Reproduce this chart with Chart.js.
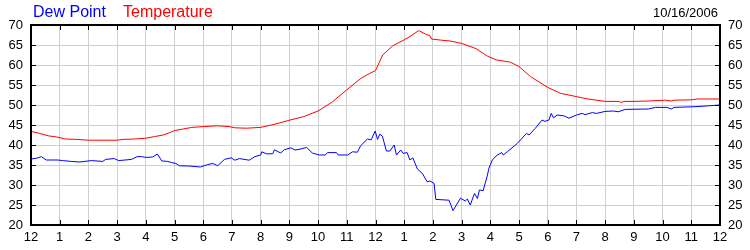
<!DOCTYPE html>
<html>
<head>
<meta charset="utf-8">
<script src="https://cdn.jsdelivr.net/npm/chart.js@4/dist/chart.umd.min.js"></script>
<style>
  body { margin: 0; background: #fff; }
  canvas { display: block; }
</style>
</head>
<body>
<canvas id="weather" width="750" height="250"></canvas>
<script>
const hourLabels = ['12','1','2','3','4','5','6','7','8','9','10','11','12','1','2','3','4','5','6','7','8','9','10','11','12'];
const yTicks = [20, 70, 5]; // min, max, step
const seriesNames = ['Dew Point', 'Temperature'];
const dateLabel = '10/16/2006';

const tempHours = [0,0.3,0.6,0.9,1.2,1.6,2,2.5,3,3.2,3.6,4,4.3,4.6,4.8,5,5.3,5.6,6,6.5,6.9,7.1,7.5,8,
  8.5,9,9.5,10,10.5,11,11.5,11.8,12,12.25,12.6,13,13.2,13.5,13.75,13.9,13.95,14.3,14.6,15,15.5,15.9,
  16.2,16.7,17,17.4,18,18.45,19,19.4,20,20.5,20.55,20.65,21,21.5,22.1,22.3,22.4,23,23.2,24];
const tempValues = [43.4,42.9,42.3,42.0,41.5,41.4,41.2,41.2,41.2,41.4,41.5,41.7,42.1,42.5,43.0,43.6,44.0,44.4,44.6,44.8,44.6,44.3,44.2,44.4,
  45.2,46.2,47.1,48.5,50.8,53.8,56.7,57.9,58.6,62.5,64.8,66.3,67.1,68.6,67.7,67.3,66.5,66.2,66.0,65.4,64.1,62.2,
  61.3,60.7,59.6,57.1,54.4,52.9,52.1,51.5,50.9,50.9,50.6,50.9,50.9,51.0,51.2,51.0,51.2,51.3,51.5,51.5];

const dewHours = [0,0.2,0.36,0.53,0.94,1.1,1.4,1.7,2.1,2.5,2.6,2.9,3.05,3.5,3.7,3.85,4,4.24,4.4,4.56,4.76,4.9,5.04,5.17,5.5,5.9,
  6.16,6.33,6.5,6.74,6.97,7.1,7.26,7.6,7.8,8,8.04,8.2,8.42,8.48,8.7,8.82,9.05,9.2,9.4,9.6,9.8,10.04,10.25,10.33,10.64,10.7,
  11.03,11.2,11.37,11.48,11.72,11.85,11.99,12.07,12.15,12.24,12.38,12.5,12.65,12.73,12.88,12.96,13.1,13.2,13.3,13.46,13.63,
  13.8,13.9,14.04,14.1,14.56,14.7,14.96,15.13,15.2,15.3,15.45,15.55,15.62,15.75,15.9,15.95,16.07,16.24,16.4,16.45,16.59,
  16.94,17.26,17.35,17.57,17.8,17.9,18.04,18.12,18.2,18.33,18.56,18.74,19,19.2,19.3,19.55,19.7,20,20.3,20.45,20.7,21.5,
  21.75,22.15,22.3,22.4,23.2,23.6,24];
const dewValues = [36.5,36.7,37.1,36.25,36.25,36.1,35.9,35.75,36.1,35.9,36.4,36.6,36.1,36.4,37.1,37.1,36.9,37.0,37.75,36.0,35.9,35.6,35.4,34.8,34.75,34.5,
  35.1,35.4,34.8,36.4,36.8,36.2,36.6,36.2,37.1,37.5,38.3,37.8,37.8,38.8,38.0,38.8,39.3,38.75,39.0,39.4,38.0,37.5,37.5,38.1,38.1,37.5,
  37.5,38.3,38.2,39.8,41.5,41.3,43.5,41.4,42.7,42.2,38.5,38.5,40.0,37.5,38.75,37.9,38.1,36.25,36.8,34.0,32.9,
  30.8,31.0,30.4,26.4,26.2,23.6,26.7,26.0,26.5,25.0,27.9,26.6,28.75,28.6,32.5,34.2,36.25,37.5,38.1,37.5,38.3,
  40.4,42.9,42.5,44.2,46.25,45.9,46.25,47.9,46.8,47.5,47.3,46.7,47.5,47.9,47.6,48.1,47.9,48.4,48.5,48.3,48.9,49.0,
  49.4,49.4,49.0,49.4,49.6,49.8,50.0];

const toPoints = (xs, ys) => xs.map((h, i) => ({ x: h, y: ys[i] }));

// frame with inward tick marks + header texts
const framePlugin = {
  id: 'frame',
  afterDraw(chart) {
    const ctx = chart.ctx, a = chart.chartArea;
    const xs = chart.scales.x, ys = chart.scales.y;
    ctx.save();
    ctx.strokeStyle = '#000';
    ctx.lineWidth = 1;
    ctx.beginPath();
    for (let h = 1; h < hourLabels.length - 1; h++) {
      const px = Math.round(xs.getPixelForValue(h)) + 0.5;
      ctx.moveTo(px, a.top); ctx.lineTo(px, a.top + 5);
      ctx.moveTo(px, a.bottom); ctx.lineTo(px, a.bottom - 5);
    }
    for (let v = yTicks[0] + yTicks[2]; v < yTicks[1]; v += yTicks[2]) {
      const py = Math.round(ys.getPixelForValue(v)) + 0.5;
      ctx.moveTo(a.left, py); ctx.lineTo(a.left + 5, py);
      ctx.moveTo(a.right, py); ctx.lineTo(a.right - 5, py);
    }
    ctx.stroke();
    ctx.lineWidth = 2;
    ctx.strokeRect(Math.round(a.left), Math.round(a.top), Math.round(a.right - a.left), Math.round(a.bottom - a.top));

    ctx.textBaseline = 'alphabetic';
    ctx.font = '16px "Liberation Sans", Arial, sans-serif';
    ctx.textAlign = 'left';
    ctx.fillStyle = '#0000ff';
    ctx.fillText(seriesNames[0], 33, 17);
    ctx.fillStyle = '#ff0000';
    ctx.fillText(seriesNames[1], 123, 17);
    ctx.font = '13px "Liberation Sans", Arial, sans-serif';
    ctx.fillStyle = '#000';
    ctx.textAlign = 'right';
    ctx.fillText(dateLabel, 718, 17);
    ctx.restore();
  }
};

const tickFont = { family: '"Liberation Sans", Arial, sans-serif', size: 13 };

new Chart(document.getElementById('weather'), {
  type: 'line',
  data: {
    datasets: [
      {
        label: seriesNames[1],
        data: toPoints(tempHours, tempValues),
        borderColor: '#ff0000',
        borderWidth: 1,
        pointRadius: 0,
        tension: 0
      },
      {
        label: seriesNames[0],
        data: toPoints(dewHours, dewValues),
        borderColor: '#0000ff',
        borderWidth: 1,
        pointRadius: 0,
        tension: 0
      }
    ]
  },
  options: {
    responsive: false,
    animation: false,
    devicePixelRatio: 1,
    layout: { padding: { top: 25, left: 0, right: 0, bottom: 0 } },
    plugins: { legend: { display: false }, tooltip: { enabled: false } },
    scales: {
      x: {
        type: 'linear',
        min: 0,
        max: 24,
        grid: { color: '#d0d0d0', drawTicks: false },
        border: { display: false },
        ticks: {
          stepSize: 1,
          autoSkip: false,
          maxRotation: 0,
          padding: 5,
          color: '#000',
          font: tickFont,
          callback: (v) => hourLabels[v]
        },
        afterFit: (s) => { s.height = 25; }
      },
      y: {
        position: 'left',
        min: yTicks[0],
        max: yTicks[1],
        grid: { color: '#d0d0d0', drawTicks: false },
        border: { display: false },
        ticks: { stepSize: yTicks[2], padding: 8, color: '#000', font: tickFont },
        afterFit: (s) => { s.width = 31; }
      },
      y2: {
        position: 'right',
        min: yTicks[0],
        max: yTicks[1],
        grid: { display: false, drawTicks: false },
        border: { display: false },
        ticks: { stepSize: yTicks[2], padding: 8, color: '#000', font: tickFont },
        afterFit: (s) => { s.width = 30; }
      }
    }
  },
  plugins: [framePlugin]
});
</script>
</body>
</html>
